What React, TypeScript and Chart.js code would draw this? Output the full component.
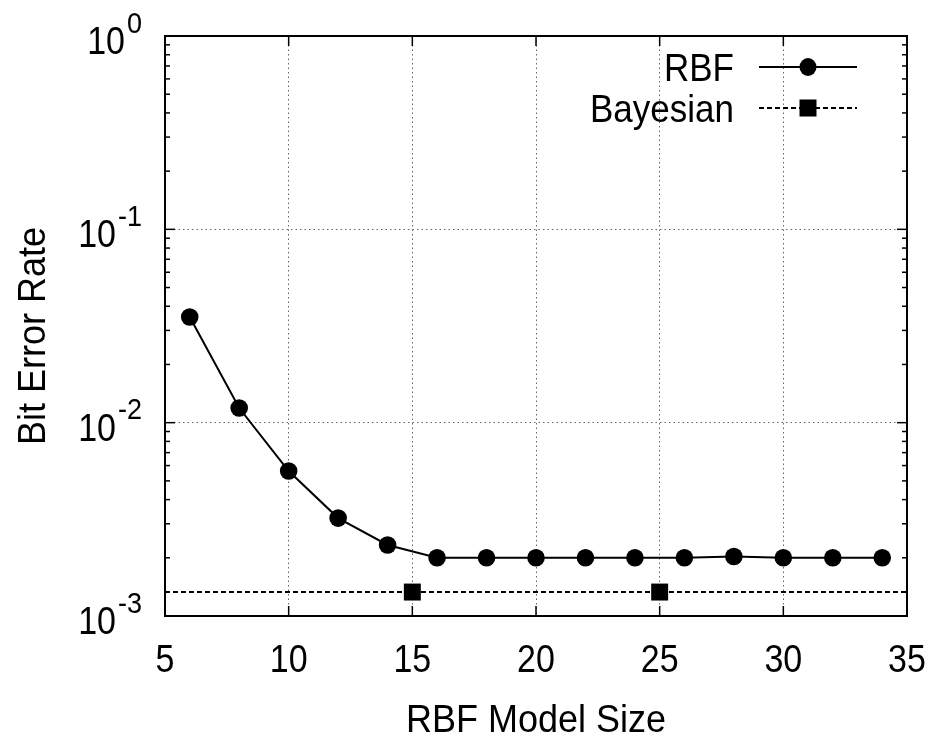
import { useEffect, useRef } from "react";
import { Chart, registerables } from "chart.js";
Chart.register(...registerables);

const rbfSizes = [6, 8, 10, 12, 14, 16, 18, 20, 22, 24, 26, 28, 30, 32, 34];
const rbfBer = [0.0352, 0.0119, 0.00562, 0.00321, 0.00233, 0.002, 0.002, 0.002, 0.002, 0.002, 0.002, 0.00203, 0.002, 0.002, 0.002];
const bayesSizes = [5, 15, 25, 35];
const bayesBer = [0.00133, 0.00133, 0.00133, 0.00133];
const bayesMarkerShown = [false, true, true, false];
const xTickValues = [5, 10, 15, 20, 25, 30, 35];
const yDecades = [-3, -2, -1, 0];
const xTitle = "RBF Model Size";
const yTitle = "Bit Error Rate";

const FONT = '"Liberation Sans", Arial, Helvetica, sans-serif';

const drawPlugin = {
  id: "gnuplotFrame",
  afterDraw(chart: any) {
    const { ctx, chartArea: a, scales } = chart;
    const x = scales.x;
    const y = scales.y;
    ctx.save();
    ctx.strokeStyle = "#000";
    ctx.fillStyle = "#000";
    const seg = (x1: number, y1: number, x2: number, y2: number) => {
      ctx.beginPath();
      ctx.moveTo(x1, y1);
      ctx.lineTo(x2, y2);
      ctx.stroke();
    };
    const text = (s: string, tx: number, ty: number, size: number, align: CanvasTextAlign, sy: number) => {
      ctx.save();
      ctx.font = `${size}px ${FONT}`;
      ctx.textAlign = align;
      ctx.textBaseline = "alphabetic";
      ctx.translate(tx, ty);
      ctx.scale(1, sy);
      ctx.fillText(s, 0, 0);
      ctx.restore();
    };
    ctx.lineWidth = 1.5;
    ctx.setLineDash([]);
    xTickValues.forEach((v) => {
      const px = x.getPixelForValue(v);
      seg(px, a.bottom, px, a.bottom - 10);
      seg(px, a.top, px, a.top + 10);
    });
    for (let i = 0; i < yDecades.length - 1; i++) {
      for (let m = 1; m <= 9; m++) {
        const v = m * Math.pow(10, yDecades[i]);
        const py = y.getPixelForValue(v);
        const len = m === 1 ? 10 : 5;
        seg(a.left, py, a.left + len, py);
        seg(a.right, py, a.right - len, py);
      }
    }
    // frame
    ctx.lineWidth = 2;
    ctx.strokeRect(a.left, a.top, a.right - a.left, a.bottom - a.top);

    // x tick labels
    xTickValues.forEach((v) => {
      text(String(v), x.getPixelForValue(v), a.bottom + 56, 34, "center", 1.15);
    });
    // y tick labels 10^e
    yDecades.forEach((d) => {
      const py = y.getPixelForValue(Math.pow(10, d));
      const sup = String(d);
      ctx.font = `27px ${FONT}`;
      const w = ctx.measureText(sup).width;
      const rightEdge = a.left - 23;
      text(sup, rightEdge, py - 3.5, 27, "right", 1.12);
      text("10", rightEdge - w - 2, py + 18, 34, "right", 1.15);
    });
    // titles
    text(xTitle, (a.left + a.right) / 2, a.bottom + 116, 36, "center", 1.06);
    ctx.save();
    ctx.translate(a.left - 120, (a.top + a.bottom) / 2 + 10);
    ctx.rotate(-Math.PI / 2);
    text(yTitle, 0, 0, 36, "center", 1.06);
    ctx.restore();

    // legend
    const ds = chart.data.datasets;
    const rows = [a.top + 31, a.top + 72];
    ds.forEach((d: any, i: number) => {
      const ry = rows[i];
      ctx.fillStyle = "#000";
      text(d.label, a.right - 173, ry + 14, 35, "right", 1.1);
      ctx.strokeStyle = d.borderColor;
      ctx.lineWidth = d.borderWidth;
      ctx.setLineDash(d.borderDash || []);
      const lx1 = a.right - 148;
      const lx2 = a.right - 50;
      seg(lx1, ry, lx2, ry);
      ctx.setLineDash([]);
      const cx = (lx1 + lx2) / 2;
      ctx.fillStyle = "#000";
      ctx.beginPath();
      if (d.legendMarker === "circle") {
        ctx.ellipse(cx, ry, 8.5, 9, 0, 0, Math.PI * 2);
      } else {
        ctx.rect(cx - 8.5, ry - 8.5, 17, 17);
      }
      ctx.fill();
    });
    ctx.restore();
  },
};

export default function App() {
  const ref = useRef<HTMLCanvasElement>(null);
  useEffect(() => {
    document.body.style.margin = "0";
    const canvas = ref.current!;
    const chart = new Chart(canvas, {
      type: "line",
      data: {
        datasets: [
          {
            label: "RBF",
            data: rbfSizes.map((s, i) => ({ x: s, y: rbfBer[i] })),
            borderColor: "#000",
            backgroundColor: "#000",
            borderWidth: 2,
            pointRadius: 8.8,
            pointHoverRadius: 8.8,
            pointStyle: "circle",
            pointBorderWidth: 0,
            tension: 0,
            legendMarker: "circle",
          } as any,
          {
            label: "Bayesian",
            data: bayesSizes.map((s, i) => ({ x: s, y: bayesBer[i] })),
            borderColor: "#000",
            backgroundColor: "#000",
            borderWidth: 2,
            borderDash: [5, 3],
            pointStyle: "rect",
            pointRadius: bayesMarkerShown.map((b) => (b ? 12 : 0)),
            pointHoverRadius: bayesMarkerShown.map((b) => (b ? 12 : 0)),
            pointBorderWidth: 0,
            tension: 0,
            legendMarker: "rect",
          } as any,
        ],
      },
      options: {
        animation: false,
        responsive: false,
        devicePixelRatio: 1,
        layout: { padding: { left: 0, top: 36, right: 22, bottom: 0 } },
        plugins: { legend: { display: false }, tooltip: { enabled: false }, title: { display: false } },
        events: [],
        scales: {
          x: {
            type: "linear",
            min: 5,
            max: 35,
            afterBuildTicks: (s: any) => {
              s.ticks = xTickValues.map((v) => ({ value: v }));
            },
            afterFit: (s: any) => {
              s.height = 122;
            },
            ticks: { display: false },
            grid: { color: "#666", lineWidth: 1, drawTicks: false, tickLength: 0 },
            border: { display: false, dash: [1.5, 3] },
            title: { display: false },
          },
          y: {
            type: "logarithmic",
            min: 0.001,
            max: 1,
            afterBuildTicks: (s: any) => {
              s.ticks = yDecades.map((d) => ({ value: Math.pow(10, d) }));
            },
            afterFit: (s: any) => {
              s.width = 165;
            },
            ticks: { display: false },
            grid: { color: "#666", lineWidth: 1, drawTicks: false, tickLength: 0 },
            border: { display: false, dash: [1.5, 3] },
            title: { display: false },
          },
        },
      },
      plugins: [drawPlugin],
    } as any);
    return () => chart.destroy();
  }, []);
  return <canvas ref={ref} width={929} height={738} style={{ display: "block" }} />;
}
